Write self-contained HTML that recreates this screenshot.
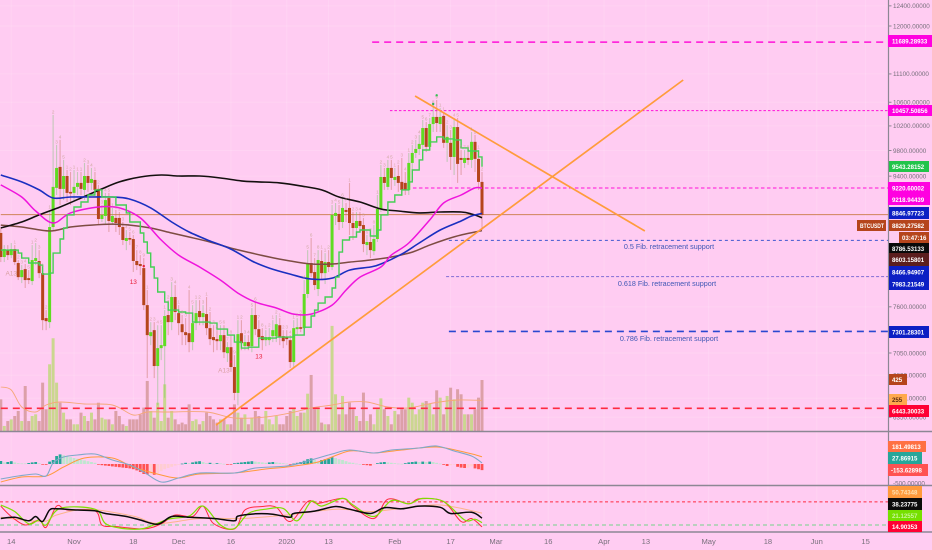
<!DOCTYPE html>
<html lang="en">
<head>
<meta charset="utf-8">
<title>BTCUSDT chart</title>
<style>
html,body{margin:0;padding:0;background:#ffccf2;width:932px;height:550px;overflow:hidden}
svg{display:block;font-family:"Liberation Sans",sans-serif}
.badge text{font-size:6.1px;fill:#fff;font-weight:bold}
</style>
</head>
<body>
<svg id="chart" xmlns="http://www.w3.org/2000/svg" width="932" height="550" viewBox="0 0 932 550">
<rect x="0" y="0" width="932" height="550" fill="#ffccf2"/>
<g id="grid"></g>
<g id="volume"></g>
<g id="levels"></g>
<g id="candles"></g>
<g id="overlays"></g>
<g id="trend"></g>
<g id="marks"></g>
<text x="669" y="249" text-anchor="middle" font-size="7.2" fill="#3f57b5">0.5 Fib. retracement support</text>
<text x="667" y="286" text-anchor="middle" font-size="7.2" fill="#3f57b5">0.618 Fib. retracement support</text>
<text x="669" y="341" text-anchor="middle" font-size="7.2" fill="#3f57b5">0.786 Fib. retracement support</text>
<g id="macd"></g>
<g id="stoch"></g>
<g id="axes"></g>
<g class="badge" id="badges">
<g><rect x="888" y="35" width="44" height="12" fill="#ff00e0"/><text x="892" y="43.5">11689.28933</text></g>
<g><rect x="888" y="105" width="44" height="11" fill="#ff00e0"/><text x="892" y="113">10457.50856</text></g>
<g><rect x="889" y="161" width="40" height="11" fill="#22c44a"/><text x="892" y="169">9543.28152</text></g>
<g><rect x="888" y="182" width="42" height="12" fill="#ff00e0"/><text x="892" y="190.5">9220.60002</text></g>
<g><rect x="888" y="194" width="42" height="11" fill="#ff00e0"/><text x="892" y="202">9218.94439</text></g>
<g><rect x="889" y="207" width="40" height="12" fill="#0c1fc4"/><text x="892" y="215.5">8846.97723</text></g>
<g><rect x="857" y="220" width="29" height="11" fill="#b5451c"/><text x="860" y="228" textLength="24" lengthAdjust="spacingAndGlyphs">BTCUSDT</text></g>
<g><rect x="889" y="220" width="40" height="11" fill="#b5451c"/><text x="892" y="228">8829.27582</text></g>
<g><rect x="899" y="232" width="30" height="11" fill="#b5451c"/><text x="902" y="240">03:47:16</text></g>
<g><rect x="889" y="243" width="40" height="10" fill="#0a0a0a"/><text x="892" y="251">8786.53133</text></g>
<g><rect x="889" y="253" width="40" height="13" fill="#5c1e1e"/><text x="892" y="262">8603.15801</text></g>
<g><rect x="889" y="266" width="40" height="12" fill="#0c1fc4"/><text x="892" y="274.5">8466.94907</text></g>
<g><rect x="889" y="278" width="40" height="12" fill="#0c1fc4"/><text x="892" y="286.5">7983.21549</text></g>
<g><rect x="889" y="326" width="40" height="12" fill="#0c1fc4"/><text x="892" y="334.5">7301.28301</text></g>
<g><rect x="889" y="374" width="18" height="11" fill="#b5451c"/><text x="892" y="382">425</text></g>
<g><rect x="889" y="394" width="18" height="11" fill="#ffa94d"/><text x="892" y="402" style="fill:#5a2a10">255</text></g>
<g><rect x="889" y="405" width="40" height="12" fill="#ff0033"/><text x="892" y="413.5">6443.30033</text></g>
<g><rect x="888" y="441" width="38" height="11" fill="#ff7043"/><text x="892" y="449">181.49813</text></g>
<g><rect x="888" y="452" width="34" height="12" fill="#26a69a"/><text x="892" y="460.5">27.86915</text></g>
<g><rect x="888" y="464" width="40" height="12" fill="#ff5252"/><text x="891" y="472.5">-153.62898</text></g>
<g><rect x="888" y="486" width="34" height="12" fill="#ff9a3c"/><text x="892" y="494.5" style="fill:#ffe0b0">50.74348</text></g>
<g><rect x="888" y="498" width="34" height="12" fill="#0a0a0a"/><text x="892" y="506.5">38.23775</text></g>
<g><rect x="888" y="510" width="34" height="11" fill="#76e000"/><text x="892" y="518" style="fill:#c8f59a">21.12557</text></g>
<g><rect x="888" y="521" width="34" height="11" fill="#ff0033"/><text x="892" y="529">14.90353</text></g>
</g>
</svg>
<script>
// ---- price series (one entry per daily bar) ----
const opens=[8570,8241,8334,8267,8348,8161,7976,8081,7963,7925,8188,8188,8028,7462,7413,8653,9222,9542,9207,9402,9162,9147,9237,9297,9192,9402,9297,9342,9207,8767,8810,9071,8724,8782,8782,8653,8459,8500,8486,8188,8148,8094,7621,7246,7317,6902,7106,7129,7499,7413,7722,7523,7388,7293,7281,7176,7401,7548,7474,7511,7341,7235,7211,7187,7258,7048,7117,6891,6607,7281,7129,7176,7129,7499,7329,7246,7199,7199,7246,7246,7376,7246,7235,7199,6947,7329,7352,7341,7760,8161,8042,7823,8188,8028,8174,8108,8810,8839,8724,8897,8926,8710,8639,8739,8681,8403,8445,8321,8486,8911,9387,9237,9526,9342,9402,9312,9297,9192,9604,9761,9825,9890,10165,9858,10231,10350,10231,10367,9923,9923,9698,10181,9682,9604,9682,9651,9939,9667,9312];
const highs=[8639,8403,8403,8431,8403,8201,8134,8148,8068,8403,8431,8334,8094,7560,8897,10384,9890,9971,9651,9495,9464,9495,9464,9464,9604,9573,9526,9464,9267,8969,9147,9147,8926,8897,8868,8724,8611,8584,8542,8334,8267,8227,7810,7413,7413,7376,7376,7560,7683,7912,7874,7621,7499,7462,7810,7621,7683,7683,7621,7722,7536,7376,7317,7376,7376,7176,7258,7026,7437,7437,7258,7258,7585,7658,7437,7341,7317,7341,7437,7499,7462,7317,7317,7258,7437,7462,7499,7938,8334,8500,8227,8334,8334,8294,8334,8969,8998,8969,9071,8998,9297,8868,8868,8868,8782,8542,8570,8681,9116,9573,9526,9651,9651,9526,9573,9682,9464,9761,9890,9971,10052,10299,10265,10333,10555,10639,10503,10435,10214,10133,10333,10333,9808,9808,9808,10100,10052,9808,9464];
const lows=[8174,8174,8201,8227,8134,7938,7899,7836,7887,7874,8134,7963,7317,7317,7341,8611,9116,8969,9041,9012,8969,9041,9116,9116,9041,9162,9192,9116,8681,8724,8695,8584,8681,8584,8542,8403,8334,8403,8042,8068,8002,7560,6768,7141,6768,6476,6969,6555,7258,7317,7437,7258,7141,7141,7059,7082,7317,7376,7376,7258,7141,7059,7082,7082,6992,6947,6836,6529,6476,7082,7082,7082,7059,7258,7141,7082,7129,7141,7176,7176,7141,7106,7141,6880,6880,7258,7293,7293,7709,7976,7810,7734,7938,7887,8042,8068,8681,8611,8639,8724,8542,8473,8542,8584,8307,8267,8227,8267,8445,8868,9192,9192,9192,9252,9162,9101,9116,9116,9495,9682,9729,9808,9776,9808,10100,10100,10100,9842,9620,9495,9417,9297,9417,9526,9573,9526,9464,9192,8611];
const closes=[8241,8348,8267,8348,8174,7976,8068,7938,7938,8201,8227,8028,7437,7425,8653,9237,9526,9207,9402,9147,9147,9237,9297,9207,9402,9297,9357,9192,8767,8825,9041,8739,8810,8710,8653,8473,8500,8486,8188,8134,8121,7621,7258,7293,6902,7106,7141,7487,7413,7722,7536,7401,7293,7258,7176,7401,7523,7474,7523,7341,7211,7199,7187,7258,7059,7117,6891,6607,7270,7164,7176,7129,7499,7329,7235,7199,7235,7235,7317,7388,7235,7187,7211,6947,7341,7352,7341,7760,8161,8028,7874,8201,8028,8174,8108,8825,8854,8724,8926,8868,8710,8639,8739,8667,8417,8445,8334,8486,8911,9387,9297,9526,9372,9387,9297,9192,9192,9604,9761,9825,9906,10165,9858,10231,10350,10248,10350,9923,10020,9698,10181,9589,9651,9682,9651,9939,9667,9312,8825];
const volumes=[264,42,83,97,125,167,83,375,83,125,139,83,403,181,556,773,403,236,153,97,97,56,56,153,125,83,153,97,236,111,97,97,56,167,125,56,42,97,97,97,139,195,417,167,111,236,83,389,111,167,97,56,70,56,222,83,97,56,83,153,125,97,70,97,97,56,56,222,153,111,139,56,111,167,125,56,167,97,56,125,56,56,125,167,195,125,153,153,311,467,181,181,70,56,56,876,306,139,292,139,236,181,125,83,320,83,139,56,181,272,181,125,56,167,139,181,181,278,236,139,181,236,250,228,139,339,278,139,292,361,264,348,306,139,139,139,181,278,425];
const volumeMaDays=[0,3,6,10,13,17,24,32,38,42,48,59,67,76,83,89,95,100,105,111,117,124,131,138];
const volumeMa=[367,342,200,158,217,242,225,217,133,158,158,158,108,117,150,192,217,242,242,200,192,233,258,255];

// ---- moving averages ----
const ma200Days=[0,6,11,17,23,29,34,40,46,51,57,63,69,74,80,86,92,97,103,109,114,120,126,132,135,138];
const ma200=[8639,8724,8825,8940,9071,9207,9312,9387,9417,9402,9402,9372,9327,9312,9297,9252,9192,9086,9012,8911,8882,8854,8868,8868,8839,8786];
const ma100Days=[0,6,11,15,20,26,32,37,43,49,54,60,66,72,77,83,89,95,100,106,109,115,120,126,132,135,138];
const ma100=[9417,9312,9192,9071,9086,9086,9086,9056,8926,8724,8584,8459,8348,8188,8094,8015,7950,7963,8068,8108,8148,8280,8431,8611,8739,8810,8847];
const ma50Days=[0,6,10,15,20,28,34,40,46,51,57,63,68,73,79,84,89,95,99,103,109,112,117,123,127,132,136,138];
const ma50=[9267,9086,8882,8710,8854,8940,8926,8782,8473,8267,8108,7938,7772,7658,7585,7511,7511,7621,7810,7976,8108,8267,8431,8753,8998,9116,9222,9219];
const emaDays=[0,6,14,20,26,32,37,43,49,54,60,66,72,77,83,89,95,100,106,112,118,123,128,132,138];
const ema=[8681,8653,8597,8653,8681,8695,8681,8639,8570,8514,8445,8362,8294,8241,8188,8148,8148,8174,8201,8241,8307,8403,8486,8542,8603];
const stairDays=[0,5,6,8,11,12,14,15,17,18,19,21,23,25,27,29,33,36,37,40,41,42,43,44,45,47,48,51,53,55,60,62,65,67,69,71,74,79,84,87,89,90,91,93,95,96,97,98,100,102,103,106,108,109,111,113,115,117,118,120,121,123,125,127,130,132,134,137,138];
const stairLevels=[8334,8294,8227,8161,8134,8015,8028,8294,8486,8639,8825,8940,9012,9116,9192,9086,8969,8854,8724,8570,8445,8294,8108,7963,7785,7658,7560,7536,7523,7413,7401,7329,7258,7176,7106,7117,7223,7235,7258,7352,7487,7560,7646,7722,7836,7976,8307,8473,8514,8584,8611,8528,8611,8825,9012,9116,9192,9312,9495,9651,9808,9939,10020,9987,9971,9842,9792,9698,9543];

// ---- MACD ----
const macdDays=[0,5,10,13,15,18,22,27,32,37,41,46,51,57,67,73,82,88,95,100,107,112,120,125,130,135,138];
const macdLine=[-375,-300,-250,-300,25,175,225,250,100,-25,-200,-450,-350,-225,-225,-100,-50,75,250,350,275,350,400,450,325,200,28];
const signalDays=[0,6,13,18,24,32,38,46,51,57,67,76,82,91,100,107,115,125,134,138];
const signalLine=[-450,-325,-300,-75,150,150,-75,-275,-350,-250,-225,-125,-75,50,325,275,350,425,275,181];
const histogram=[75,40,50,70,40,20,15,15,25,40,50,20,-10,-20,60,100,200,240,220,190,170,150,130,110,90,70,50,30,-10,-30,-40,-50,-60,-70,-80,-90,-100,-110,-130,-160,-200,-250,-260,-260,-270,-230,-180,-130,-100,-70,-40,-10,10,30,20,40,60,70,50,20,30,10,20,15,5,-5,-10,20,30,40,50,60,70,60,50,40,30,40,50,40,30,20,10,-10,10,30,50,80,120,140,100,60,100,120,130,170,150,120,100,70,40,30,10,0,-20,-30,-40,-10,20,40,50,40,30,20,10,5,20,40,50,60,50,60,50,60,50,30,10,-20,-50,-30,-10,-70,-90,-100,-90,-60,-110,-130,-153];

// ---- stochastic ----
const stochBlackDays=[0,4,8,10,12,14,16,22,27,30,36,40,45,49,54,61,67,68,73,78,83,84,90,96,100,106,110,115,120,126,129,135,138];
const stochBlack=[37,40,31,42,29,59,62,59,57,50,42,33,22,42,40,37,31,43,49,48,40,50,56,68,61,50,65,62,69,66,50,53,38];
const stochLimeDays=[0,4,8,11,13,17,27,30,35,41,48,54,58,63,67,71,76,81,85,89,92,98,101,107,112,117,121,127,133,136,138];
const stochLime=[72,55,23,33,20,63,61,24,11,11,35,43,69,20,11,50,61,63,31,81,69,89,72,42,83,75,89,81,33,35,26];
const stochRedDays=[0,3,7,11,13,16,19,27,29,33,41,46,50,55,58,61,67,70,75,79,83,88,91,98,101,107,111,117,120,127,132,135,138];
const stochRed=[69,42,20,33,14,69,59,57,20,16,10,23,46,42,69,24,10,59,68,66,29,81,76,89,68,37,87,75,88,81,29,37,15];
const stochPaleDays=[0,12,16,25,38,45,57,69,82,96,106,115,126,138];
const stochPale=[40,29,46,61,43,24,37,37,46,61,55,63,72,51];

// ---- axis labels ----
const priceTicks=[12400,12000,11100,10600,10200,9800,9400,7600,7050,6800,6550,6350];
const dateTicks=[3,21,38,51,66,82,94,113,129,142,157,173,185,203,220,234,248];
const dateLabels=['14','Nov','18','Dec','16','2020','13','Feb','17','Mar','16','Apr','13','May','18','Jun','15'];

// ---- axis functions ----
const NS='http://www.w3.org/2000/svg';
const AXIS_X=888.5;
function xDay(d){return 0.8+d*3.487;}
function yPrice(p){return 26+614.8*Math.log(12000/p);}
function yVolume(v){return 431-v*0.12;}
function yMacd(v){return 464-v*0.04;}
function yStoch(v){return 532.7-v*0.385;}
function mk(tag,name,attrs,parent,interactable){
  const el=document.createElementNS(NS,tag);
  
  
  for(const k in attrs){el.setAttribute(k,attrs[k]);}
  parent.appendChild(el);
  return el;
}
function polyline(name,days,vals,yFn,color,width,parent,opacity){
  const px=days.map(function(d){return xDay(d);});
  const py=vals.map(function(v){return yFn(v);});
  let path='M'+px[0].toFixed(1)+' '+py[0].toFixed(1);
  for(let i=0;i<px.length-1;i++){
    const a=Math.max(i-1,0),b=Math.min(i+2,px.length-1);
    const c1x=px[i]+(px[i+1]-px[a])/6,c1y=py[i]+(py[i+1]-py[a])/6;
    const c2x=px[i+1]-(px[b]-px[i])/6,c2y=py[i+1]-(py[b]-py[i])/6;
    path+=' C'+c1x.toFixed(1)+' '+c1y.toFixed(1)+' '+c2x.toFixed(1)+' '+c2y.toFixed(1)+' '+px[i+1].toFixed(1)+' '+py[i+1].toFixed(1);
  }
  return mk('path',name,{d:path,fill:'none',stroke:color,'stroke-width':width,'stroke-linejoin':'round','stroke-opacity':opacity||1},parent);
}
function g(id){return document.getElementById(id);}

// grid
dateTicks.forEach(function(d,i){
  mk('line','grid-vertical-'+i,{x1:xDay(d),x2:xDay(d),y1:0,y2:532,stroke:'#ffffff','stroke-opacity':0.14},g('grid'));
});
priceTicks.forEach(function(p,i){
  mk('line','grid-horizontal-'+i,{x1:0,x2:AXIS_X,y1:yPrice(p),y2:yPrice(p),stroke:'#ffffff','stroke-opacity':0.14},g('grid'));
});

// volume
volumes.forEach(function(v,i){
  const up=closes[i]>=opens[i];
  mk('rect','volume-bar-'+i,{x:xDay(i)-1.5,y:yVolume(v),width:3,height:431-yVolume(v),fill:up?'#cbd690':'#dca0a8'},g('volume'));
});
polyline('volume-ma-line',volumeMaDays,volumeMa,yVolume,'#f5a878',0.9,g('volume'));

// horizontal levels
function drawLevel(name,price,startDay,color,width,dash){
  mk('line',name,{x1:xDay(startDay),x2:AXIS_X,y1:yPrice(price),y2:yPrice(price),stroke:color,'stroke-width':width,'stroke-dasharray':dash},g('levels'),true);
}
drawLevel('resistance-11689',11689.28,106.5,'#ff10d8',1.6,'7 5');
drawLevel('resistance-10457',10457.5,111.6,'#ff10d8',1,'2.5 2');
drawLevel('resistance-9220',9220.6,118.2,'#ff10d8',1,'3.5 2.5');
drawLevel('last-price-line',8829.27,0,'#cf8458',1,'none');
drawLevel('fib-0-5-line',8466.95,128.5,'#3f57d0',1,'3 3');
drawLevel('fib-0-618-line',7983.21,127.7,'#8f78d8',1.2,'3 2');
drawLevel('fib-0-786-line',7301.28,128.5,'#2a48d0',1.6,'7 5');
drawLevel('support-6443',6443.3,0,'#ff2a40',1.6,'7 5');

// candles
opens.forEach(function(o,i){
  const c=closes[i],up=c>=o,x=xDay(i);
  mk('line','candle-wick-'+i,{x1:x,x2:x,y1:yPrice(highs[i]),y2:yPrice(lows[i]),stroke:up?'#6fc26a':'#c26a50','stroke-opacity':0.42,'stroke-width':1.1},g('candles'));
  const top=yPrice(Math.max(o,c)),bot=yPrice(Math.min(o,c));
  mk('rect','candle-body-'+i,{x:x-1.5,y:top,width:3,height:Math.max(bot-top,1.6),fill:up?'#5fdc22':'#b5451c'},g('candles'));
});

// overlays
polyline('ma-brown-line',emaDays,ema,yPrice,'#7d4c42',1.5,g('overlays'));
polyline('ma-200-black-line',ma200Days,ma200,yPrice,'#14100f',1.6,g('overlays'));
polyline('ma-100-blue-line',ma100Days,ma100,yPrice,'#1a2fc0',1.6,g('overlays'));
polyline('ma-50-magenta-line',ma50Days,ma50,yPrice,'#ef14dc',1.5,g('overlays'));
(function(){
  let pts=[];
  stairDays.forEach(function(d,i){
    const y=yPrice(stairLevels[i]).toFixed(1);
    if(i>0){pts.push(xDay(d).toFixed(1)+','+yPrice(stairLevels[i-1]).toFixed(1));}
    pts.push(xDay(d).toFixed(1)+','+y);
  });
  mk('polyline','trailing-stop-green-line',{points:pts.join(' '),fill:'none',stroke:'#45cf55','stroke-width':1.4},g('overlays'));
})();

// trend lines
function drawTrend(name,d1,p1,d2,p2){
  mk('line',name,{x1:xDay(d1),y1:yPrice(p1),x2:xDay(d2),y2:yPrice(p2),stroke:'#ff9c3c','stroke-width':1.7},g('trend'),true);
}
drawTrend('rising-trend-line',61.7,6269,195.7,10991);
drawTrend('falling-trend-line',118.8,10708,184.7,8598);

// TD setup counts above each bar: close compared with close four bars earlier
let tdRun=0,tdDir=0;
closes.forEach(function(c,i){
  if(i<4){return;}
  const dir=c>closes[i-4]?1:-1;
  tdRun=dir===tdDir?tdRun+1:1;
  tdDir=dir;
  const t=mk('text','td-count-'+i,{x:xDay(i),y:yPrice(highs[i])-1.5,'text-anchor':'middle','font-size':4.6,fill:dir>0?'#b89a7a':'#c99a8a','fill-opacity':0.7},g('marks'));
  t.textContent=String(((tdRun-1)%9)+1);
});

// TD marks
const markDays=[38,74,3,64];
const markPrices=[7890,6990,8000,6830];
const markTexts=['13','13','A13','A13'];
const markColors=['#e8203a','#e8203a','#d8a0a0','#d8a0a0'];
markDays.forEach(function(d,i){
  const t=mk('text','td-mark-'+i,{x:xDay(d),y:yPrice(markPrices[i]),'text-anchor':'middle','font-size':6.5,fill:markColors[i]},g('marks'));
  t.textContent=markTexts[i];
});
const dotDays=[124,125,41,66];
const dotPrices=[10570,10720,8120,6950];
const dotColors=['#30b050','#30c050','#e8203a','#e8203a'];
dotDays.forEach(function(d,i){
  mk('circle','td-dot-'+i,{cx:xDay(d),cy:yPrice(dotPrices[i]),r:1.2,fill:dotColors[i]},g('marks'));
});

// MACD pane
histogram.forEach(function(v,i){
  const prev=i?histogram[i-1]:0;
  const col=v>=0?(v>prev?'#26a69a':'#bfe6cf'):(v<prev?'#ff5252':'#ffcdd2');
  const y=yMacd(Math.max(v,0));
  mk('rect','macd-histogram-bar-'+i,{x:xDay(i)-1.4,y:y,width:2.8,height:Math.max(Math.abs(v)*0.04,0.7),fill:col},g('macd'));
});
polyline('macd-signal-line',signalDays,signalLine,yMacd,'#ff9a3c',1,g('macd'));
polyline('macd-line',macdDays,macdLine,yMacd,'#7fa8c9',1.1,g('macd'));

// Stochastic pane
mk('line','stoch-upper-band',{x1:0,x2:AXIS_X,y1:yStoch(80),y2:yStoch(80),stroke:'#ff2a40','stroke-width':1,'stroke-dasharray':'3 2.5'},g('stoch'));
mk('line','stoch-lower-band',{x1:0,x2:AXIS_X,y1:yStoch(20),y2:yStoch(20),stroke:'#8fd19e','stroke-width':1.2,'stroke-dasharray':'4 3'},g('stoch'));
polyline('stoch-smooth-line',stochPaleDays,stochPale,yStoch,'#fbb58a',1,g('stoch'));
polyline('stoch-red-line',stochRedDays,stochRed,yStoch,'#ff2a40',1,g('stoch'));
polyline('stoch-lime-line',stochLimeDays,stochLime,yStoch,'#7ee000',1.2,g('stoch'));
polyline('stoch-black-line',stochBlackDays,stochBlack,yStoch,'#0a0a0a',1.5,g('stoch'));

// axes and separators
[431.5,485.5,532].forEach(function(y,i){
  mk('line','pane-separator-'+i,{x1:0,x2:932,y1:y,y2:y,stroke:'#8c8794','stroke-width':1.4},g('axes'));
});
mk('line','price-axis-line',{x1:AXIS_X,x2:AXIS_X,y1:0,y2:532,stroke:'#8c8794','stroke-width':1.2},g('axes'));
priceTicks.forEach(function(p,i){
  const y=yPrice(p);
  mk('line','price-tick-'+i,{x1:AXIS_X,x2:AXIS_X+3,y1:y,y2:y,stroke:'#8c8794'},g('axes'));
  const t=mk('text','price-tick-label-'+i,{x:AXIS_X+4.5,y:y+2.3,'font-size':6.3,fill:'#77707c'},g('axes'));
  t.textContent=p.toFixed(5);
});
(function(){
  const t=mk('text','macd-tick-label',{x:AXIS_X+4.5,y:yMacd(-480)+2.3,'font-size':6.3,fill:'#77707c'},g('axes'));
  t.textContent='-500.00000';
})();
dateTicks.forEach(function(d,i){
  const t=mk('text','date-tick-label-'+i,{x:xDay(d),y:544,'text-anchor':'middle','font-size':7.6,fill:'#77707c'},g('axes'));
  t.textContent=dateLabels[i];
});
</script>
</body>
</html>
